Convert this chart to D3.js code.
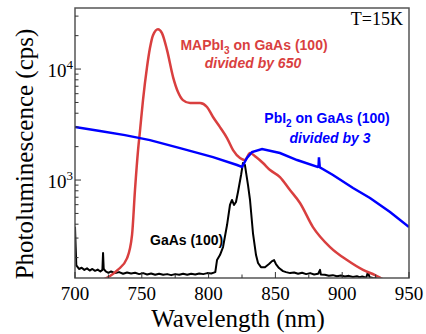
<!DOCTYPE html>
<html>
<head>
<meta charset="utf-8">
<script src="https://cdn.jsdelivr.net/npm/d3@7"></script>
<style>
  body { margin: 0; background: #fff; }
  svg { display: block; }
</style>
</head>
<body>
<div id="chart"></div>
<script>
const margin = { top: 8, right: 17, bottom: 56, left: 75 };
const width = 426 - margin.left - margin.right;
const height = 334 - margin.top - margin.bottom;

// MAPbI3 on GaAs (100), divided by 650
const mapbiWl = [712, 720, 726, 732, 739, 742.7, 744.9, 747.2, 748.7, 750.9, 753.9, 756.1, 758.4, 762.1, 765.1, 768.9, 773.4, 777.1, 780.8, 786.1, 793.6, 798.8, 803.3, 808.5, 813.8, 818.3, 823.5, 827.2, 831, 835.5, 840.7, 846, 853.4, 860.9, 868.4, 878.1, 890.9, 903.6, 915.6, 924.6, 932, 940];
const mapbiPL = [115, 125, 136, 155, 198, 320, 813, 1862, 2820, 5250, 10400, 15450, 20200, 22900, 21100, 14800, 8470, 6210, 5250, 4940, 4940, 4550, 3700, 3000, 2390, 1862, 1580, 1514, 1750, 1610, 1423, 1230, 1064, 813, 621, 377, 249, 190, 155, 139, 125, 115];

// PbI2 on GaAs (100), divided by 3
const pbiWl = [700, 718.7, 737.4, 756.1, 778.6, 803.3, 821.3, 825, 828.7, 832.5, 840, 853.4, 866.2, 881.6, 882.3, 882.6, 883.2, 893.1, 908.1, 920.8, 935.8, 950];
const pbiPL = [3000, 2760, 2540, 2290, 1940, 1610, 1365, 1310, 1580, 1790, 1900, 1750, 1514, 1315, 1330, 1600, 1305, 1110, 847, 689, 515, 377];

// GaAs (100)
const gaasWl = [700, 700.5, 701, 703, 705, 707, 709, 711, 713, 715, 717, 719, 720.5, 721, 721.5, 723, 725, 727, 730, 733, 736, 739, 742, 745, 748, 751, 754, 757, 760, 763, 766, 769, 772, 775, 778, 781, 784, 787, 790, 793, 796, 799, 802, 805, 806.3, 808.5, 810.8, 813.8, 816, 817.5, 819, 820.5, 822, 824.3, 825.7, 827.2, 829.5, 831, 833.2, 835.5, 837, 839.2, 842.2, 845.2, 847.5, 849, 850.4, 852.7, 855.7, 858, 861, 864, 867, 870, 873, 876, 879, 882, 883.4, 884, 887, 890, 893, 896, 899, 902, 905, 908, 911, 913, 915, 918, 919.3, 920.5, 923, 926, 930, 940, 950];
const gaasPL = [380, 250, 170, 158, 162, 155, 160, 153, 158, 152, 156, 150, 155, 220, 158, 150, 146, 150, 145, 148, 143, 147, 144, 146, 142, 145, 141, 144, 140, 143, 140, 142, 139, 142, 140, 143, 140, 143, 141, 144, 142, 145, 144, 148, 190, 211, 249, 393, 596, 661, 596, 634, 780, 1110, 1423, 1365, 901, 661, 333, 211, 179, 164, 164, 175, 186, 190, 175, 161, 151, 148, 145, 147, 143, 146, 142, 145, 141, 143, 155, 141, 140, 137, 139, 136, 138, 135, 137, 134, 136, 133, 135, 132, 148, 133, 131, 130, 128, 125, 122];

const xTicks = [700, 750, 800, 850, 900, 950];
const xMinorTicks = [725, 775, 825, 875, 925];
const yMajorTicks = [1000, 10000];

const serif = "'Liberation Serif', 'Times New Roman', serif";
const sans = "'Liberation Sans', Arial, sans-serif";
const red = "#d93f3f";
const blue = "#0000ff";

const svg = d3.select("#chart")
  .append("svg")
  .attr("width", width + margin.left + margin.right)
  .attr("height", height + margin.top + margin.bottom)
  .append("g")
  .attr("transform", "translate(" + margin.left + "," + margin.top + ")");

const x = d3.scaleLinear().domain([700, 950]).range([0, width]);
const y = d3.scaleLog().domain([131, 35500]).range([height, 0]);

svg.append("clipPath").attr("id", "clip")
  .append("rect").attr("width", width).attr("height", height);

const line = d3.line()
  .x(d => x(d[0]))
  .y(d => y(d[1]));

function series(wl, pl) {
  return wl.map((w, i) => [w, pl[i]]);
}

const plot = svg.append("g").attr("clip-path", "url(#clip)");

plot.append("path")
  .datum(series(gaasWl, gaasPL))
  .attr("fill", "none")
  .attr("stroke", "black")
  .attr("stroke-width", 2)
  .attr("stroke-linejoin", "round")
  .attr("d", line);

plot.append("path")
  .datum(series(mapbiWl, mapbiPL))
  .attr("fill", "none")
  .attr("stroke", red)
  .attr("stroke-width", 2.5)
  .attr("d", line.curve(d3.curveMonotoneX));

plot.append("path")
  .datum(series(pbiWl, pbiPL))
  .attr("fill", "none")
  .attr("stroke", blue)
  .attr("stroke-width", 2.5)
  .attr("d", line.curve(d3.curveLinear));

// frame
svg.append("rect")
  .attr("width", width)
  .attr("height", height)
  .attr("fill", "none")
  .attr("stroke", "#555")
  .attr("stroke-width", 1.5);

// bottom ticks (inward)
svg.selectAll(".xt").data(xTicks).enter().append("line")
  .attr("x1", d => x(d)).attr("x2", d => x(d))
  .attr("y1", height).attr("y2", height - 6)
  .attr("stroke", "#333").attr("stroke-width", 1);
svg.selectAll(".xmt").data(xMinorTicks).enter().append("line")
  .attr("x1", d => x(d)).attr("x2", d => x(d))
  .attr("y1", height).attr("y2", height - 3.5)
  .attr("stroke", "#333").attr("stroke-width", 1);

svg.selectAll(".xl").data(xTicks).enter().append("text")
  .attr("x", d => x(d))
  .attr("y", height + 22)
  .attr("text-anchor", "middle")
  .style("font-family", serif)
  .style("font-size", "19px")
  .text(d => d);

// left ticks (inward), log minor ticks
const yMinor = [];
[100, 1000, 10000].forEach(dec => {
  for (let k = 2; k <= 9; k++) {
    const v = dec * k;
    if (v > y.domain()[0] && v < y.domain()[1]) yMinor.push(v);
  }
});

svg.selectAll(".yt").data(yMajorTicks).enter().append("line")
  .attr("x1", 0).attr("x2", 6)
  .attr("y1", d => y(d)).attr("y2", d => y(d))
  .attr("stroke", "#333").attr("stroke-width", 1);
svg.selectAll(".ymt").data(yMinor).enter().append("line")
  .attr("x1", 0).attr("x2", 3.5)
  .attr("y1", d => y(d)).attr("y2", d => y(d))
  .attr("stroke", "#333").attr("stroke-width", 1);

const yl = svg.selectAll(".yl").data(yMajorTicks).enter().append("text")
  .attr("x", -2)
  .attr("y", d => y(d) + 8)
  .attr("text-anchor", "end")
  .style("font-family", serif)
  .style("font-size", "19px");
yl.append("tspan").text("10");
yl.append("tspan").attr("dy", -8).style("font-size", "13px").text(d => Math.round(Math.log10(d)));

// axis titles
svg.append("text")
  .attr("x", width / 2 - 4)
  .attr("y", height + 49)
  .attr("text-anchor", "middle")
  .style("font-family", serif)
  .style("font-size", "25px")
  .text("Wavelength (nm)");

svg.append("text")
  .attr("transform", "rotate(-90)")
  .attr("x", -(146))
  .attr("y", -42)
  .attr("text-anchor", "middle")
  .style("font-family", serif)
  .style("font-size", "25px")
  .text("Photoluminescence (cps)");

// annotations
const a1 = svg.append("text")
  .attr("x", 254 - margin.left).attr("y", 50 - margin.top)
  .attr("text-anchor", "middle")
  .style("font-family", sans).style("font-weight", "bold").style("font-size", "14px")
  .attr("fill", red);
a1.append("tspan").text("MAPbI");
a1.append("tspan").attr("dy", 4).style("font-size", "10px").text("3");
a1.append("tspan").attr("dy", -4).text(" on GaAs (100)");

svg.append("text")
  .attr("x", 253 - margin.left).attr("y", 68 - margin.top)
  .attr("text-anchor", "middle")
  .style("font-family", sans).style("font-weight", "bold").style("font-style", "italic").style("font-size", "14px")
  .attr("fill", red)
  .text("divided by 650");

const a2 = svg.append("text")
  .attr("x", 327 - margin.left).attr("y", 123 - margin.top)
  .attr("text-anchor", "middle")
  .style("font-family", sans).style("font-weight", "bold").style("font-size", "14px")
  .attr("fill", blue);
a2.append("tspan").text("PbI");
a2.append("tspan").attr("dy", 4).style("font-size", "10px").text("2");
a2.append("tspan").attr("dy", -4).text(" on GaAs (100)");

svg.append("text")
  .attr("x", 330 - margin.left).attr("y", 143 - margin.top)
  .attr("text-anchor", "middle")
  .style("font-family", sans).style("font-weight", "bold").style("font-style", "italic").style("font-size", "14px")
  .attr("fill", blue)
  .text("divided by 3");

svg.append("text")
  .attr("x", 150 - margin.left).attr("y", 245 - margin.top)
  .style("font-family", sans).style("font-weight", "bold").style("font-size", "14px")
  .attr("fill", "black")
  .text("GaAs (100)");

svg.append("text")
  .attr("x", 403 - margin.left).attr("y", 25 - margin.top)
  .attr("text-anchor", "end")
  .style("font-family", serif).style("font-size", "18px")
  .text("T=15K");
</script>
</body>
</html>
